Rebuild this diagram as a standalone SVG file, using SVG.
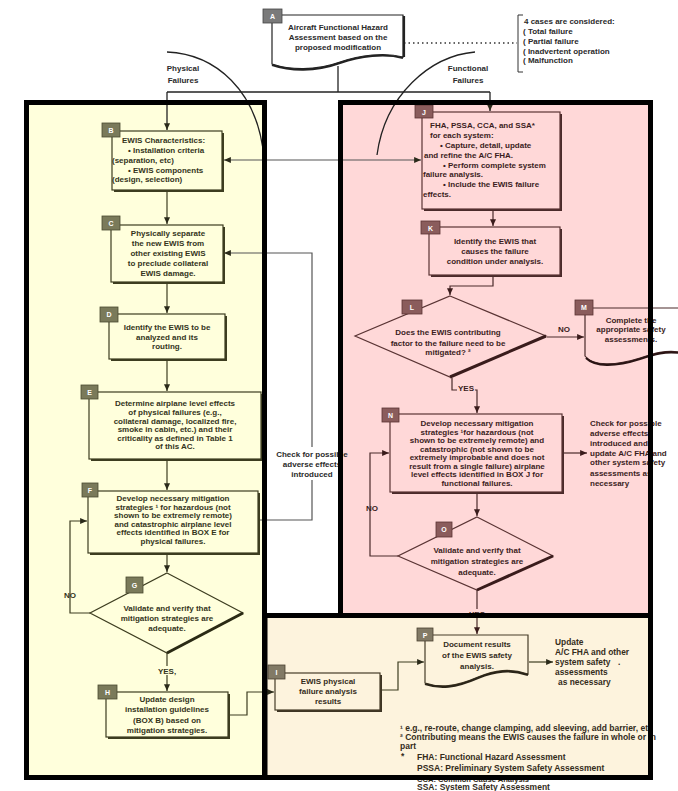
<svg xmlns="http://www.w3.org/2000/svg" width="678" height="791" viewBox="0 0 678 791">
<style>
svg{font-size:8px}
text{font-family:"Liberation Sans",Arial,sans-serif;font-weight:bold}
.c{text-anchor:middle}
.lt{fill:#34341b}
.rt{fill:#3b1d1d}
.bt{fill:#342c1b}
.kt{fill:#2a2a2a}
.lab{fill:#ffffff;font-size:7px;text-anchor:middle}
.lbox{fill:#ffffdc;stroke:#3d3d20;stroke-width:1.2}
.rbox{fill:#ffd8d8;stroke:#5a3434;stroke-width:1.2}
.bbox{fill:#fdf3dd;stroke:#463c28;stroke-width:1.2}
.lsh{fill:#3d3d20}
.rsh{fill:#4a2a2a}
.bsh{fill:#3d3424}
.llab{fill:#7a7a5a;stroke:#4a4a30;stroke-width:0.8}
.rlab{fill:#8a5c5c;stroke:#5a3434;stroke-width:0.8}
.blab{fill:#827a66;stroke:#4a4030;stroke-width:0.8}
.ln{fill:none;stroke:#3d3d20;stroke-width:1.2}
.rn{fill:none;stroke:#4a2a2a;stroke-width:1.2}
.gn{fill:none;stroke:#555555;stroke-width:1.2}
.kn{fill:none;stroke:#222222;stroke-width:1.3}
.border{fill:none;stroke:#000000;stroke-width:5}
.fn{font-size:8.5px}
.pn{font-size:8.4px}
</style>
<defs>
<marker id="ah" viewBox="0 0 8 7" refX="8" refY="3.5" markerWidth="7" markerHeight="6" markerUnits="userSpaceOnUse" orient="auto-start-reverse"><path d="M0,0 L8,3.5 L0,7 z" fill="#2a2a1a"/></marker>
<marker id="ahr" viewBox="0 0 8 7" refX="8" refY="3.5" markerWidth="7" markerHeight="6" markerUnits="userSpaceOnUse" orient="auto-start-reverse"><path d="M0,0 L8,3.5 L0,7 z" fill="#3a1c1c"/></marker>
</defs>
<rect x="0" y="0" width="678" height="791" fill="#ffffff"/>
<g id="panels-fill">
<rect x="26.5" y="102.5" width="238" height="675" fill="#ffffdc"/>
<rect x="340.5" y="102.5" width="310" height="513" fill="#ffd8d8"/>
<rect x="265" y="615.5" width="385.5" height="162" fill="#fdf3dd"/>
</g>
<g id="connectors">
<path class="kn" d="M167,52 C215,54 258,90 264,158"/>
<path class="kn" d="M475,52 C430,56 385,95 377,155"/>
<path class="kn" d="M338,66 V92"/>
<path class="kn" d="M167,92 H490"/>
<path class="kn" d="M167,92 V130" marker-end="url(#ah)"/>
<path class="kn" d="M490,92 V111" marker-end="url(#ah)"/>
<path d="M404,43 H517" fill="none" stroke="#333" stroke-width="1.5" stroke-dasharray="1.5,3"/>
<text class="kt c" x="183" y="71">Physical</text>
<text class="kt c" x="183" y="83">Failures</text>
<text class="kt c" x="468" y="71">Functional</text>
<text class="kt c" x="468" y="83">Failures</text>
<path class="gn" d="M224,160 H421" marker-start="url(#ah)" marker-end="url(#ah)"/>
<path class="ln" d="M167,190 V224" marker-end="url(#ah)"/>
<path class="ln" d="M167,282 V313" marker-end="url(#ah)"/>
<path class="ln" d="M167,359 V391" marker-end="url(#ah)"/>
<path class="ln" d="M167,459 V490" marker-end="url(#ah)"/>
<path class="ln" d="M167,553 V572" marker-end="url(#ah)"/>
<path class="gn" d="M259,520 H312 V480"/>
<path class="gn" d="M312,447 V253 H224" marker-end="url(#ah)"/>
<text class="kt c" x="312" y="457">Check for possible</text>
<text class="kt c" x="312" y="467">adverse effects</text>
<text class="kt c" x="312" y="477">introduced</text>
<path class="ln" d="M90,613 H70 V521 H87" marker-end="url(#ah)"/>
<text class="lt c" x="70" y="598">NO</text>
<path class="ln" d="M167,653 V691" marker-end="url(#ah)"/>
<rect x="154" y="666" width="26" height="9" fill="#ffffdc"/>
<text class="lt c" x="167" y="674">YES,</text>
<path class="ln" d="M229,715 H247 V692 H274" marker-end="url(#ah)"/>
<path class="ln" d="M381,690 H398 V662 H424" marker-end="url(#ah)"/>
<path class="ln" d="M529,662 H553" marker-end="url(#ah)"/>
<path class="rn" d="M493,210 V226" marker-end="url(#ahr)"/>
<path class="rn" d="M493,276 V286 H450 V295" marker-end="url(#ahr)"/>
<path class="rn" d="M547,337 H584" marker-end="url(#ahr)"/>
<text class="rt c" x="564" y="332">NO</text>
<path class="rn" d="M452,378 V390 H477 V413" marker-end="url(#ahr)"/>
<rect x="457" y="383" width="18" height="9" fill="#ffd8d8"/>
<text class="rt c" x="466" y="391">YES</text>
<path class="rn" d="M563,453 H587" marker-end="url(#ahr)"/>
<path class="rn" d="M477,493 V516" marker-end="url(#ahr)"/>
<path class="rn" d="M398,556 H370 V453 H389" marker-end="url(#ahr)"/>
<text class="rt c" x="372" y="511">NO</text>
<path class="rn" d="M477,590 V634" marker-end="url(#ahr)"/>
<rect x="466" y="609" width="22" height="9" fill="#ffd8d8"/>
<text class="rt c" x="477" y="617">YES</text>
</g>
<g id="node-A">
<path d="M272,15 H403 V57 C385,52 360,55 340,62 C315,71 290,70 272,64 Z" fill="#ffffff" stroke="#222" stroke-width="1.2"/>
<path d="M404,16 V57" stroke="#222" stroke-width="2.2" fill="none"/>
<path d="M403,58 C385,53 360,56 340,63 C315,72 290,71 272,65" fill="none" stroke="#222" stroke-width="2.2"/>
<rect x="263" y="9" width="19" height="14" fill="#7a7a7a" stroke="#444" stroke-width="0.8"/>
<text class="lab" x="272.5" y="19">A</text>
<text class="kt c" x="338" y="30">Aircraft Functional Hazard</text>
<text class="kt c" x="338" y="40">Assessment based on the</text>
<text class="kt c" x="338" y="50">proposed modification</text>
</g>
<g id="note-cases">
<path d="M523,15 H518 V72 H523" fill="none" stroke="#333" stroke-width="1"/>
<text class="kt" x="524" y="24">4 cases are considered:</text>
<text class="kt" x="523" y="34">(  Total failure</text>
<text class="kt" x="523" y="44">(  Partial failure</text>
<text class="kt" x="523" y="54">(  Inadvertent operation</text>
<text class="kt" x="523" y="63">(  Malfunction</text>
</g>
<g id="node-B">
<rect class="lsh" x="114" y="133" width="110" height="59"/>
<rect class="lbox" x="112" y="131" width="110" height="59"/>
<rect class="llab" x="102" y="123" width="18" height="14"/>
<text class="lab" x="111" y="133">B</text>
<text class="lt" x="122" y="143">EWIS Characteristics:</text>
<text class="lt" x="128" y="153">• Installation criteria</text>
<text class="lt" x="112" y="163">(separation, etc)</text>
<text class="lt" x="128" y="173">• EWIS components</text>
<text class="lt" x="112" y="182">(design, selection)</text>
</g>
<g id="node-C">
<rect class="lsh" x="113" y="227" width="112" height="57"/>
<rect class="lbox" x="111" y="225" width="112" height="57"/>
<rect class="llab" x="102" y="216" width="18" height="14"/>
<text class="lab" x="111" y="226">C</text>
<text class="lt c" x="168" y="236">Physically separate</text>
<text class="lt c" x="168" y="246">the new EWIS from</text>
<text class="lt c" x="168" y="256">other existing EWIS</text>
<text class="lt c" x="168" y="266">to preclude collateral</text>
<text class="lt c" x="168" y="276">EWIS damage.</text>
</g>
<g id="node-D">
<rect class="lsh" x="111" y="316" width="116" height="45"/>
<rect class="lbox" x="109" y="314" width="116" height="45"/>
<rect class="llab" x="100" y="307" width="18" height="15"/>
<text class="lab" x="109" y="317">D</text>
<text class="lt c" x="167" y="330">Identify the EWIS to be</text>
<text class="lt c" x="167" y="340">analyzed and its</text>
<text class="lt c" x="167" y="349">routing.</text>
</g>
<g id="node-E">
<rect class="lsh" x="91" y="394" width="172" height="67"/>
<rect class="lbox" x="89" y="392" width="172" height="67"/>
<rect class="llab" x="81" y="385" width="17" height="14"/>
<text class="lab" x="89.5" y="395">E</text>
<text class="lt c" x="175" y="406">Determine airplane level effects</text>
<text class="lt c" x="175" y="415">of physical failures (e.g.,</text>
<text class="lt c" x="175" y="423.5">collateral damage, localized fire,</text>
<text class="lt c" x="175" y="432">smoke in cabin, etc.) and their</text>
<text class="lt c" x="175" y="440.5">criticality  as defined in Table 1</text>
<text class="lt c" x="175" y="449">of this AC.</text>
</g>
<g id="node-F">
<rect class="lsh" x="90" y="493" width="170" height="62"/>
<rect class="lbox" x="88" y="491" width="170" height="62"/>
<rect class="llab" x="82" y="483" width="16" height="14"/>
<text class="lab" x="90" y="493">F</text>
<text class="lt c" x="173" y="501">Develop necessary mitigation</text>
<text class="lt c" x="173" y="509.5">strategies ¹ for hazardous (not</text>
<text class="lt c" x="173" y="518">shown to be extremely remote)</text>
<text class="lt c" x="173" y="526.5">and catastrophic  airplane level</text>
<text class="lt c" x="173" y="535">effects identified in BOX E for</text>
<text class="lt c" x="173" y="543.5">physical failures.</text>
</g>
<g id="node-G">
<polygon points="167,573 243,613 167,653 90,613" fill="#ffffdc" stroke="#3d3d20" stroke-width="1.2"/>
<path d="M243,613 L167,653" stroke="#2a2a14" stroke-width="3" fill="none"/>
<rect class="llab" x="126" y="577" width="17" height="16"/>
<text class="lab" x="134.5" y="588">G</text>
<text class="lt c" x="167" y="611">Validate and verify that</text>
<text class="lt c" x="167" y="621">mitigation strategies are</text>
<text class="lt c" x="167" y="631">adequate.</text>
</g>
<g id="node-H">
<rect class="lsh" x="108" y="694" width="122" height="45"/>
<rect class="lbox" x="106" y="692" width="122" height="45"/>
<rect class="llab" x="98" y="685" width="19" height="14"/>
<text class="lab" x="107.5" y="695">H</text>
<text class="lt c" x="167" y="702">Update design</text>
<text class="lt c" x="167" y="712">installation guidelines</text>
<text class="lt c" x="167" y="723">(BOX B) based on</text>
<text class="lt c" x="167" y="733">mitigation strategies.</text>
</g>
<g id="node-I">
<rect class="bsh" x="277" y="675" width="105" height="37"/>
<rect class="bbox" x="275" y="673" width="105" height="37"/>
<rect class="blab" x="268" y="665" width="17" height="14"/>
<text class="lab" x="276.5" y="675">I</text>
<text class="bt c" x="328" y="684">EWIS physical</text>
<text class="bt c" x="328" y="694">failure analysis</text>
<text class="bt c" x="328" y="704">results</text>
</g>
<g id="node-J">
<rect class="rsh" x="424" y="114" width="138" height="97"/>
<rect class="rbox" x="422" y="112" width="138" height="97"/>
<rect class="rlab" x="415" y="105" width="18" height="13"/>
<text class="lab" x="424" y="114.5">J</text>
<text class="rt" x="430" y="128">FHA, PSSA, CCA, and SSA*</text>
<text class="rt" x="430" y="138">for each system:</text>
<text class="rt" x="440" y="148">• Capture, detail, update</text>
<text class="rt" x="424" y="158">and refine the A/C FHA.</text>
<text class="rt" x="443" y="168">• Perform complete system</text>
<text class="rt" x="423" y="177">failure analysis.</text>
<text class="rt" x="443" y="187">• Include the EWIS failure</text>
<text class="rt" x="423" y="197">effects.</text>
</g>
<g id="node-K">
<rect class="rsh" x="431" y="229" width="131" height="48"/>
<rect class="rbox" x="429" y="227" width="131" height="48"/>
<rect class="rlab" x="421" y="221" width="19" height="13"/>
<text class="lab" x="430.5" y="230.5">K</text>
<text class="rt c" x="495" y="244">Identify the EWIS that</text>
<text class="rt c" x="495" y="254">causes the failure</text>
<text class="rt c" x="495" y="264">condition under analysis.</text>
</g>
<g id="node-L">
<polygon points="450,296 546,336 450,377 355,336" fill="#ffd8d8" stroke="#5a3434" stroke-width="1.2"/>
<path d="M546,336 L450,377" stroke="#3a1c1c" stroke-width="3" fill="none"/>
<rect class="rlab" x="402" y="300" width="20" height="14"/>
<text class="lab" x="412" y="310">L</text>
<text class="rt c" x="448" y="335">Does the EWIS contributing</text>
<text class="rt c" x="448" y="346">factor to the failure need to be</text>
<text class="rt c" x="448" y="355">mitigated? ²</text>
</g>
<g id="node-M">
<path d="M585,308 H680 M585,308 V356 C592,366 615,366 640,358 C655,353 665,350 680,352" fill="none" stroke="#4a2a2a" stroke-width="1.2"/>
<path d="M586,358 C595,367 615,367 640,359 C655,354 665,351 680,353" fill="none" stroke="#2a1414" stroke-width="2.2"/>
<rect class="rlab" x="575" y="300" width="18" height="15"/>
<text class="lab" x="584" y="310">M</text>
<text class="rt c" x="631" y="323">Complete the</text>
<text class="rt c" x="631" y="332">appropriate safety</text>
<text class="rt c" x="631" y="342">assessments.</text>
</g>
<g id="node-N">
<rect class="rsh" x="392" y="416" width="172" height="78"/>
<rect class="rbox" x="390" y="414" width="172" height="78"/>
<rect class="rlab" x="382" y="408" width="17" height="14"/>
<text class="lab" x="390.5" y="418">N</text>
<text class="rt c" x="477" y="426">Develop necessary mitigation</text>
<text class="rt c" x="477" y="434.5">strategies ¹for hazardous (not</text>
<text class="rt c" x="477" y="443">shown to be extremely remote) and</text>
<text class="rt c" x="477" y="451.5">catastrophic (not shown to be</text>
<text class="rt c" x="477" y="460">extremely improbable and does not</text>
<text class="rt c" x="477" y="468.5">result from a single failure) airplane</text>
<text class="rt c" x="477" y="477">level effects identified in BOX J for</text>
<text class="rt c" x="477" y="485.5">functional failures.</text>
</g>
<g id="note-N">
<text class="rt" x="590" y="426">Check for possible</text>
<text class="rt" x="590" y="436">adverse effects</text>
<text class="rt" x="590" y="446">introduced and</text>
<text class="rt" x="590" y="456">update A/C FHA and</text>
<text class="rt" x="590" y="465">other system safety</text>
<text class="rt" x="590" y="476">assessments as</text>
<text class="rt" x="590" y="486">necessary</text>
</g>
<g id="node-O">
<polygon points="477,517 553,556 477,590 398,556" fill="#ffd8d8" stroke="#5a3434" stroke-width="1.2"/>
<path d="M553,556 L477,590" stroke="#3a1c1c" stroke-width="3" fill="none"/>
<rect class="rlab" x="436" y="522" width="16" height="15"/>
<text class="lab" x="444" y="532">O</text>
<text class="rt c" x="477" y="553">Validate and verify that</text>
<text class="rt c" x="477" y="564">mitigation strategies are</text>
<text class="rt c" x="477" y="575">adequate.</text>
</g>
<g id="node-P">
<path d="M425,635 H528 V674 C510,668 495,670 478,677 C455,687 440,688 425,683 Z" fill="#fdf3dd" stroke="#463c28" stroke-width="1.2"/>
<path d="M528,675 C510,669 495,671 478,678 C455,688 440,689 425,684" fill="none" stroke="#2a2418" stroke-width="2.2"/>
<rect class="blab" x="417" y="628" width="16" height="13"/>
<text class="lab" x="425" y="637.5">P</text>
<text class="bt c" x="477" y="647">Document results</text>
<text class="bt c" x="477" y="658">of the EWIS safety</text>
<text class="bt c" x="477" y="669">analysis.</text>
</g>
<g id="note-P">
<text class="bt pn" x="555" y="645">Update</text>
<text class="bt pn" x="555" y="655">A/C FHA and other</text>
<text class="bt pn" x="555" y="665">system safety</text>
<text class="bt pn" x="618" y="665">.</text>
<text class="bt pn" x="555" y="675">assessments</text>
<text class="bt pn" x="558" y="685">as necessary</text>
</g>
<g id="footnotes">
<text class="bt fn" x="400" y="731">¹ e.g., re-route, change clamping, add sleeving, add barrier, etc</text>
<text class="bt fn" x="400" y="740">² Contributing means the EWIS causes the failure in whole or in</text>
<text class="bt fn" x="400" y="749">part</text>
<text class="bt fn" x="401" y="759">*</text>
<text class="bt fn" x="417" y="760">FHA:  Functional Hazard Assessment</text>
<text class="bt fn" x="417" y="770.5">PSSA:  Preliminary System Safety Assessment</text>
<text class="bt" x="417" y="781.5" style="font-size:7.6px">CCA:  Common Cause Analysis</text>
<text class="bt fn" x="417" y="790">SSA:  System Safety Assessment</text>
</g>
<g id="panels-border">
<rect class="border" x="26.5" y="102.5" width="238" height="675"/>
<rect class="border" x="340.5" y="102.5" width="310" height="513"/>
<rect class="border" x="265" y="615.5" width="385.5" height="162"/>
</g>
</svg>
